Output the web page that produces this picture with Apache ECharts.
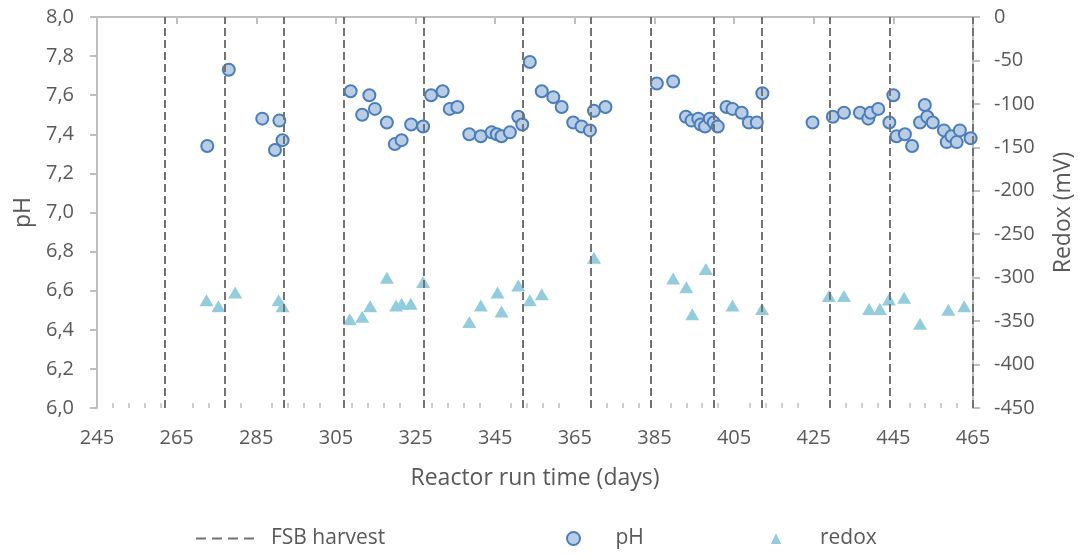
<!DOCTYPE html>
<html>
<head>
<meta charset="utf-8">
<script src="https://cdn.jsdelivr.net/npm/echarts@6/dist/echarts.min.js"></script>
<style>
  html, body { margin: 0; padding: 0; background: #fff; }
  #chart { width: 1084px; height: 556px; }
</style>
</head>
<body>
<div id="chart"></div>
<script>
// Days on which the FSB was harvested (vertical dashed lines)
const harvestDays = [262, 277, 292, 307, 327, 352, 369, 384, 400, 412, 429, 444, 465];

// pH measurements
const phDays = [272.7, 278.1, 286.5, 289.7, 290.8, 291.6, 308.7, 311.6, 313.4, 314.8,
  317.8, 319.8, 321.5, 323.9, 326.9, 328.9, 331.8, 333.6, 335.5, 338.5,
  341.4, 344.1, 345.4, 346.6, 348.7, 350.8, 351.8, 353.7, 356.7, 359.6,
  361.7, 364.6, 366.7, 368.8, 369.8, 372.7, 385.6, 389.7, 392.9, 394.3,
  396.0, 396.6, 397.7, 398.9, 399.9, 400.9, 403.1, 404.6, 406.9, 408.7,
  410.7, 412.1, 424.7, 429.8, 432.6, 436.6, 438.7, 439.3, 441.2, 444.0,
  445.0, 445.8, 447.9, 449.7, 451.7, 452.9, 453.5, 454.9, 457.7, 458.4,
  459.6, 460.9, 461.7, 464.4];
const phValues = [7.34, 7.73, 7.48, 7.32, 7.47, 7.37, 7.62, 7.50, 7.60, 7.53,
  7.46, 7.35, 7.37, 7.45, 7.44, 7.60, 7.62, 7.53, 7.54, 7.40,
  7.39, 7.41, 7.40, 7.39, 7.41, 7.49, 7.45, 7.77, 7.62, 7.59,
  7.54, 7.46, 7.44, 7.42, 7.52, 7.54, 7.66, 7.67, 7.49, 7.47,
  7.48, 7.45, 7.44, 7.48, 7.46, 7.44, 7.54, 7.53, 7.51, 7.46,
  7.46, 7.61, 7.46, 7.49, 7.51, 7.51, 7.48, 7.51, 7.53, 7.46,
  7.60, 7.39, 7.40, 7.34, 7.46, 7.55, 7.49, 7.46, 7.42, 7.36,
  7.39, 7.36, 7.42, 7.38];

// Redox potential measurements (mV)
const redoxDays = [272.5, 275.5, 279.7, 290.6, 291.6, 308.5, 311.6, 313.6, 317.8, 320.1,
  321.5, 323.8, 326.9, 338.5, 341.4, 345.6, 346.6, 350.8, 353.7, 356.7,
  369.8, 389.7, 393.0, 394.5, 397.9, 404.6, 412.0, 428.8, 432.6, 438.9,
  441.6, 443.9, 447.7, 451.7, 458.8, 462.8];
const redoxValues = [-326, -333, -317, -326, -333, -348, -345, -333, -300, -332,
  -330, -330, -305, -351, -332, -317, -339, -309, -326, -319,
  -277, -301, -311, -342, -290, -332, -336, -321, -321, -336,
  -336, -325, -323, -353, -337, -333];

// Axis tick labels
const xTickLabels = [245, 265, 285, 305, 325, 345, 365, 385, 405, 425, 445, 465];
const xMinorStep = 4;

const xMinorTicks = [];
for (let d = xTickLabels[0]; d <= xTickLabels[xTickLabels.length - 1]; d += xMinorStep) {
  if (xTickLabels.indexOf(d) < 0) xMinorTicks.push(d);
}

const pairs = (xs, ys) => xs.map((x, i) => [x, ys[i]]);

const FONT = '"Open Sans", "Liberation Sans", sans-serif';
const TEXT = '#595959';
const AXIS = '#bfbfbf';
const HARVEST = '#737373';

const chart = echarts.init(document.getElementById('chart'), null, { renderer: 'canvas' });

chart.setOption({
  animation: false,
  backgroundColor: '#ffffff',
  textStyle: { fontFamily: FONT, color: TEXT },
  grid: { left: 97, right: 111, top: 17, bottom: 148 },
  legend: [
    {
      data: ['FSB harvest'], left: 190, top: 523,
      itemWidth: 60, itemHeight: 14,
      itemStyle: { color: 'rgba(0,0,0,0)', borderWidth: 0 },
      lineStyle: { color: HARVEST, width: 2, type: [10, 6] },
      textStyle: { fontFamily: FONT, fontSize: 21, color: TEXT, padding: [0, 0, 0, 10] }
    },
    {
      data: [{ name: 'pH', icon: 'circle' }], left: 561, top: 523,
      itemWidth: 14, itemHeight: 13,
      textStyle: { fontFamily: FONT, fontSize: 21, color: TEXT, padding: [0, 0, 0, 30] }
    },
    {
      data: [{ name: 'redox', icon: 'triangle' }], left: 766, top: 523,
      itemWidth: 10, itemHeight: 11,
      textStyle: { fontFamily: FONT, fontSize: 21, color: TEXT, padding: [0, 0, 0, 34] }
    }
  ],
  xAxis: [
    {
      type: 'value', min: 245, max: 465,
      name: 'Reactor run time (days)', nameLocation: 'middle', nameGap: 59,
      nameTextStyle: { fontFamily: FONT, fontSize: 23, color: TEXT },
      axisLine: { lineStyle: { color: AXIS, width: 2 } },
      axisTick: { show: true, inside: false, length: 7, lineStyle: { color: AXIS, width: 2 }, customValues: xTickLabels },
      axisLabel: { fontFamily: FONT, fontSize: 20, color: TEXT, margin: 20, customValues: xTickLabels },
      splitLine: { show: false }
    },
    {
      type: 'value', min: 245, max: 465, position: 'bottom',
      axisLine: { show: false },
      axisTick: { show: true, inside: true, length: 5, lineStyle: { color: AXIS, width: 1.5 }, customValues: xMinorTicks },
      axisLabel: { show: false },
      splitLine: { show: false }
    }
  ],
  yAxis: [
    {
      type: 'value', min: 6, max: 8, interval: 0.2, position: 'left',
      name: 'pH', nameLocation: 'middle', nameGap: 57, nameRotate: 90,
      nameTextStyle: { fontFamily: FONT, fontSize: 23, color: TEXT },
      axisLine: { show: true, lineStyle: { color: AXIS, width: 2 } },
      axisTick: { show: true, inside: false, length: 7, lineStyle: { color: AXIS, width: 2 } },
      axisLabel: {
        fontFamily: FONT, fontSize: 20, color: TEXT, margin: 23,
        formatter: v => v.toFixed(1).replace('.', ',')
      },
      splitLine: { show: false }
    },
    {
      type: 'value', min: -450, max: 0, interval: 50, position: 'right',
      name: 'Redox (mV)', nameLocation: 'middle', nameGap: 79, nameRotate: 90,
      nameTextStyle: { fontFamily: FONT, fontSize: 23, color: TEXT },
      axisLine: { show: true, lineStyle: { color: AXIS, width: 2 } },
      axisTick: { show: true, inside: false, length: 7, lineStyle: { color: AXIS, width: 2 } },
      axisLabel: { fontFamily: FONT, fontSize: 20, color: TEXT, margin: 21 },
      splitLine: { show: false }
    }
  ],
  series: [
    {
      name: 'FSB harvest', type: 'line', xAxisIndex: 0, yAxisIndex: 0,
      data: [], symbol: 'none', z: 1,
      lineStyle: { color: HARVEST, width: 2, type: [8, 4] },
      itemStyle: { color: HARVEST },
      markLine: {
        silent: true, symbol: ['none', 'none'],
        label: { show: false },
        lineStyle: { color: HARVEST, width: 2, type: [8, 4] },
        data: harvestDays.map(d => ({ xAxis: d }))
      }
    },
    {
      name: 'pH', type: 'scatter', xAxisIndex: 0, yAxisIndex: 0, z: 4,
      symbol: 'circle', symbolSize: 12,
      itemStyle: { color: '#b9cde5', borderColor: '#4a7ebb', borderWidth: 2, opacity: 1 },
      data: pairs(phDays, phValues)
    },
    {
      name: 'redox', type: 'scatter', xAxisIndex: 0, yAxisIndex: 1, z: 3,
      symbol: 'triangle', symbolSize: [14, 12],
      itemStyle: { color: '#93cddd', opacity: 1 },
      data: pairs(redoxDays, redoxValues)
    }
  ]
});
</script>
</body>
</html>
